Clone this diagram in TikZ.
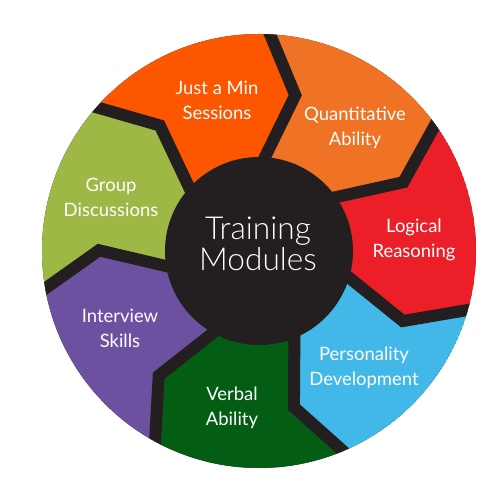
\documentclass[tikz,border=0pt]{standalone}
\usepackage{fontspec}
\setmainfont{Lato}
\newfontfamily\thinfont{Lato Light}
\usetikzlibrary{calc}

\definecolor{ringdark}{HTML}{231F20}
\definecolor{sessions}{HTML}{FD5600}
\definecolor{quant}{HTML}{F07224}
\definecolor{logical}{HTML}{EC1F28}
\definecolor{personality}{HTML}{42B8E8}
\definecolor{verbal}{HTML}{035E14}
\definecolor{interview}{HTML}{6C51A0}
\definecolor{group}{HTML}{9DB845}

\begin{document}
\begin{tikzpicture}[
    modtext/.style={text=white, align=center, inner sep=0pt,
        font=\fontsize{10.5}{14.2}\selectfont},
    hubtext/.style={text=white, align=center, inner sep=0pt,
        font=\thinfont\fontsize{18}{16}\selectfont},
    hub/.style={circle, fill=ringdark, minimum size=3.76cm, inner sep=0pt},
    gap/.style={draw=ringdark, line width=0.24cm, line join=miter}
]
    \useasboundingbox (-5.18,-4.98) rectangle (4.82,5.02);

    % boundaries: inner point, kink, outer point
    \coordinate (i0) at (86.4:1.88);    \coordinate (k0) at (76.9:3.2);    \coordinate (o0) at (88.4:4.56);
    \coordinate (i1) at (34.97:1.88);   \coordinate (k1) at (25.47:3.2);   \coordinate (o1) at (36.97:4.56);
    \coordinate (i2) at (-16.46:1.88);  \coordinate (k2) at (-25.96:3.2);  \coordinate (o2) at (-14.46:4.56);
    \coordinate (i3) at (-67.89:1.88);  \coordinate (k3) at (-77.39:3.2);  \coordinate (o3) at (-65.89:4.56);
    \coordinate (i4) at (-119.32:1.88); \coordinate (k4) at (-128.82:3.2); \coordinate (o4) at (-117.32:4.56);
    \coordinate (i5) at (-170.75:1.88); \coordinate (k5) at (-180.25:3.2); \coordinate (o5) at (-168.75:4.56);
    \coordinate (i6) at (137.82:1.88);  \coordinate (k6) at (128.32:3.2);  \coordinate (o6) at (139.82:4.56);

    \begin{scope}
        \clip (0,0) circle (4.34);
        \fill[ringdark] (0,0) circle (4.34);
        % segments
        \fill[sessions] (0,0) -- (i6) -- (k6) -- (o6) -- (139.82:5)
            arc[start angle=139.82, end angle=88.4, radius=5] -- (o0) -- (k0) -- (i0) -- cycle;
        \fill[quant] (0,0) -- (i0) -- (k0) -- (o0) -- (88.4:5)
            arc[start angle=88.4, end angle=36.97, radius=5] -- (o1) -- (k1) -- (i1) -- cycle;
        \fill[logical] (0,0) -- (i1) -- (k1) -- (o1) -- (36.97:5)
            arc[start angle=36.97, end angle=-14.46, radius=5] -- (o2) -- (k2) -- (i2) -- cycle;
        \fill[personality] (0,0) -- (i2) -- (k2) -- (o2) -- (-14.46:5)
            arc[start angle=-14.46, end angle=-65.89, radius=5] -- (o3) -- (k3) -- (i3) -- cycle;
        \fill[verbal] (0,0) -- (i3) -- (k3) -- (o3) -- (-65.89:5)
            arc[start angle=-65.89, end angle=-117.32, radius=5] -- (o4) -- (k4) -- (i4) -- cycle;
        \fill[interview] (0,0) -- (i4) -- (k4) -- (o4) -- (-117.32:5)
            arc[start angle=-117.32, end angle=-168.75, radius=5] -- (o5) -- (k5) -- (i5) -- cycle;
        \fill[group] (0,0) -- (i5) -- (k5) -- (o5) -- (-168.75:5)
            arc[start angle=-168.75, end angle=-220.18, radius=5] -- (o6) -- (k6) -- (i6) -- cycle;
        % dark gaps
        \draw[gap] ($(k0)!1.4!(i0)$) -- (k0) -- (o0);
        \draw[gap] ($(k1)!1.4!(i1)$) -- (k1) -- (o1);
        \draw[gap] ($(k2)!1.4!(i2)$) -- (k2) -- (o2);
        \draw[gap] ($(k3)!1.4!(i3)$) -- (k3) -- (o3);
        \draw[gap] ($(k4)!1.4!(i4)$) -- (k4) -- (o4);
        \draw[gap] ($(k5)!1.4!(i5)$) -- (k5) -- (o5);
        \draw[gap] ($(k6)!1.4!(i6)$) -- (k6) -- (o6);
    \end{scope}

    \node[hub] (hub) at (0,0) {};
    \node[hubtext] (title) at (-0.02,0.14) {Training\\Modules};

    \node[modtext] (jam) at (-0.84,3.02) {Just a Min\\Sessions};
    \node[modtext] (qa) at (1.92,2.46) {Quantitative\\Ability};
    \node[modtext] (lr) at (3.10,0.22) {Logical\\Reasoning};
    \node[modtext] (pd) at (2.10,-2.34) {Personality\\Development};
    \node[modtext] (va) at (-0.54,-3.14) {Verbal\\Ability};
    \node[modtext] (is) at (-2.78,-1.54) {Interview\\Skills};
    \node[modtext] (gd) at (-2.96,1.08) {Group\\Discussions};
\end{tikzpicture}
\end{document}
